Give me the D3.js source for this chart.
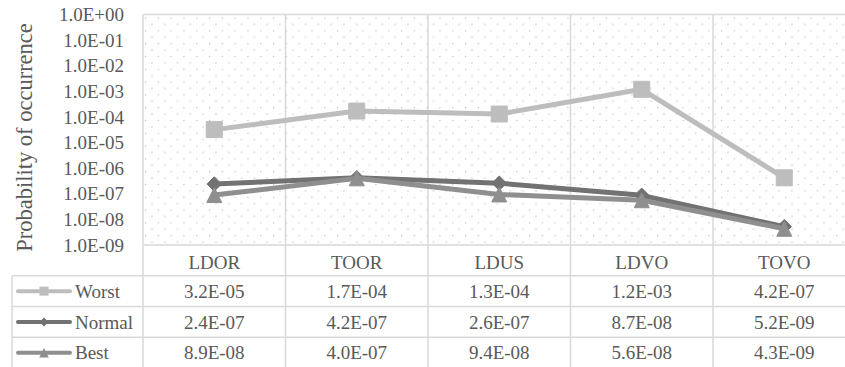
<!DOCTYPE html>
<html>
<head>
<meta charset="utf-8">
<script src="https://cdn.jsdelivr.net/npm/d3@7/dist/d3.min.js"></script>
</head>
<body style="margin:0;background:#fff">
<script>
// Scenario categories (columns of the data table)
const categories = ["LDOR", "TOOR", "LDUS", "LDVO", "TOVO"];

// Probability of occurrence per scenario
const worst  = [3.2e-5, 1.7e-4, 1.3e-4, 1.2e-3, 4.2e-7];
const normal = [2.4e-7, 4.2e-7, 2.6e-7, 8.7e-8, 5.2e-9];
const best   = [8.9e-8, 4.0e-7, 9.4e-8, 5.6e-8, 4.3e-9];

// Text shown in the table cells
const worstLabels  = ["3.2E-05", "1.7E-04", "1.3E-04", "1.2E-03", "4.2E-07"];
const normalLabels = ["2.4E-07", "4.2E-07", "2.6E-07", "8.7E-08", "5.2E-09"];
const bestLabels   = ["8.9E-08", "4.0E-07", "9.4E-08", "5.6E-08", "4.3E-09"];

// Y axis ticks (log scale, one per decade)
const tickValues = [1, 1e-1, 1e-2, 1e-3, 1e-4, 1e-5, 1e-6, 1e-7, 1e-8, 1e-9];
const tickLabels = ["1.0E+00", "1.0E-01", "1.0E-02", "1.0E-03", "1.0E-04",
                    "1.0E-05", "1.0E-06", "1.0E-07", "1.0E-08", "1.0E-09"];

const seriesNames = ["Worst", "Normal", "Best"];

const seriesList = [
  { name: seriesNames[0], values: worst,  labels: worstLabels,  color: "#bdbdbd", marker: "square" },
  { name: seriesNames[1], values: normal, labels: normalLabels, color: "#727272", marker: "diamond" },
  { name: seriesNames[2], values: best,   labels: bestLabels,   color: "#8f8f8f", marker: "triangle" }
];

const serifFamily = '"Liberation Serif"';
const textColor = "#595959";
const gridColor = "#d9d9d9";

const svg = d3.select("body").append("svg")
  .attr("width", 845).attr("height", 367)
  .style("display", "block");

// Layout
const plotLeft = 143, plotTop = 14.5, plotBottom = 245;
const colWidth = 142.5;
const plotRight = plotLeft + colWidth * categories.length;
const tableLeft = 12;
const tableBottom = 368;

const x = d3.scaleBand().domain(categories).range([plotLeft, plotRight]);
const y = d3.scaleLog().domain([1e-9, 1]).range([plotBottom, plotTop]);
const rows = d3.scaleBand().domain(["head"].concat(seriesNames)).range([plotBottom, tableBottom]);
const cx = c => x(c) + x.bandwidth() / 2;

function label(sel, size) {
  return sel.attr("fill", textColor)
    .attr("font-size", size)
    .style("font-family", serifFamily);
}

// Dotted fill pattern for the plot area
const defs = svg.append("defs");
const pat = defs.append("pattern")
  .attr("id", "dotfill")
  .attr("patternUnits", "userSpaceOnUse")
  .attr("width", 12.8).attr("height", 12.8)
  .attr("x", plotLeft + 2).attr("y", plotTop + 3);
pat.append("rect").attr("width", 12.8).attr("height", 12.8).attr("fill", "#fff");
pat.append("rect").attr("x", 0).attr("y", 0).attr("width", 1.1).attr("height", 1.1).attr("fill", "#b4b4b4");
pat.append("rect").attr("x", 6.4).attr("y", 6.4).attr("width", 1.1).attr("height", 1.1).attr("fill", "#b4b4b4");

svg.append("rect")
  .attr("x", plotLeft).attr("y", plotTop)
  .attr("width", plotRight - plotLeft).attr("height", plotBottom - plotTop)
  .attr("fill", "url(#dotfill)");

// Grid and table borders
const grid = svg.append("g").attr("stroke", gridColor).attr("stroke-width", 1.5).attr("fill", "none");
grid.append("line").attr("x1", plotLeft).attr("x2", plotRight).attr("y1", plotTop).attr("y2", plotTop);
grid.append("line").attr("x1", plotLeft).attr("x2", plotRight).attr("y1", plotBottom).attr("y2", plotBottom);
seriesNames.forEach(n => {
  grid.append("line").attr("x1", tableLeft).attr("x2", plotRight)
    .attr("y1", rows(n)).attr("y2", rows(n));
});
grid.append("line").attr("x1", tableLeft).attr("x2", plotRight).attr("y1", tableBottom).attr("y2", tableBottom);
grid.append("line").attr("x1", tableLeft).attr("x2", tableLeft).attr("y1", rows(seriesNames[0])).attr("y2", tableBottom);
categories.forEach(c => {
  grid.append("line").attr("x1", x(c)).attr("x2", x(c)).attr("y1", plotTop).attr("y2", tableBottom);
});
grid.append("line").attr("x1", plotRight).attr("x2", plotRight).attr("y1", plotTop).attr("y2", tableBottom);

// Y axis
const yAxis = d3.axisLeft(y)
  .tickValues(tickValues)
  .tickFormat((d, i) => tickLabels[i])
  .tickSize(0)
  .tickPadding(19);
const gy = svg.append("g").attr("transform", `translate(${plotLeft},0)`).call(yAxis);
gy.select(".domain").remove();
label(gy.selectAll("text"), 19);

// Y axis title
label(svg.append("text"), 22.5)
  .attr("transform", `translate(32,${(23 + 252) / 2}) rotate(-90)`)
  .attr("text-anchor", "middle")
  .text("Probability of occurrence");

// Marker shapes
function markerPath(type, s) {
  const h = s / 2;
  if (type === "square") return `M${-h},${-h}H${h}V${h}H${-h}Z`;
  if (type === "diamond") return `M0,${-h}L${h},0L0,${h}L${-h},0Z`;
  return `M0,${-h}L${h},${h}L${-h},${h}Z`;
}
const markerSize = { square: 16, diamond: 14.5, triangle: 15 };
const legendMarkerSize = { square: 9, diamond: 9, triangle: 9.5 };

// Series lines and markers
const lineGen = d3.line().x((d, i) => cx(categories[i])).y(d => y(d));
seriesList.forEach(s => {
  const g = svg.append("g");
  g.append("path")
    .attr("d", lineGen(s.values))
    .attr("fill", "none")
    .attr("stroke", s.color)
    .attr("stroke-width", 5)
    .attr("stroke-linejoin", "round");
  g.selectAll("path.mk")
    .data(s.values)
    .join("path")
    .attr("class", "mk")
    .attr("transform", (d, i) => `translate(${cx(categories[i])},${y(d)})`)
    .attr("d", markerPath(s.marker, markerSize[s.marker]))
    .attr("fill", s.color)
    .attr("stroke", s.color)
    .attr("stroke-width", 1)
    .attr("stroke-linejoin", "round");
});

// Table header (categories)
const headY = rows("head") + rows.bandwidth() / 2;
label(svg.append("g").selectAll("text")
  .data(categories)
  .join("text"), 19)
  .attr("x", d => cx(d))
  .attr("y", headY + 2)
  .attr("dy", "0.35em")
  .attr("text-anchor", "middle")
  .text(d => d);

// Table rows: legend key + values
seriesList.forEach(s => {
  const ry = rows(s.name) + rows.bandwidth() / 2;
  const g = svg.append("g");
  g.append("line")
    .attr("x1", 18).attr("x2", 70).attr("y1", ry).attr("y2", ry)
    .attr("stroke", s.color).attr("stroke-width", 4).attr("stroke-linecap", "round");
  g.append("path")
    .attr("transform", `translate(44,${ry})`)
    .attr("d", markerPath(s.marker, legendMarkerSize[s.marker]))
    .attr("fill", s.color);
  label(g.append("text"), 19)
    .attr("x", 75).attr("y", ry).attr("dy", "0.35em")
    .text(s.name);
  label(g.selectAll("text.v")
    .data(s.labels)
    .join("text"), 19)
    .attr("class", "v")
    .attr("x", (d, i) => cx(categories[i]))
    .attr("y", ry).attr("dy", "0.35em")
    .attr("text-anchor", "middle")
    .text(d => d);
});
</script>
</body>
</html>
